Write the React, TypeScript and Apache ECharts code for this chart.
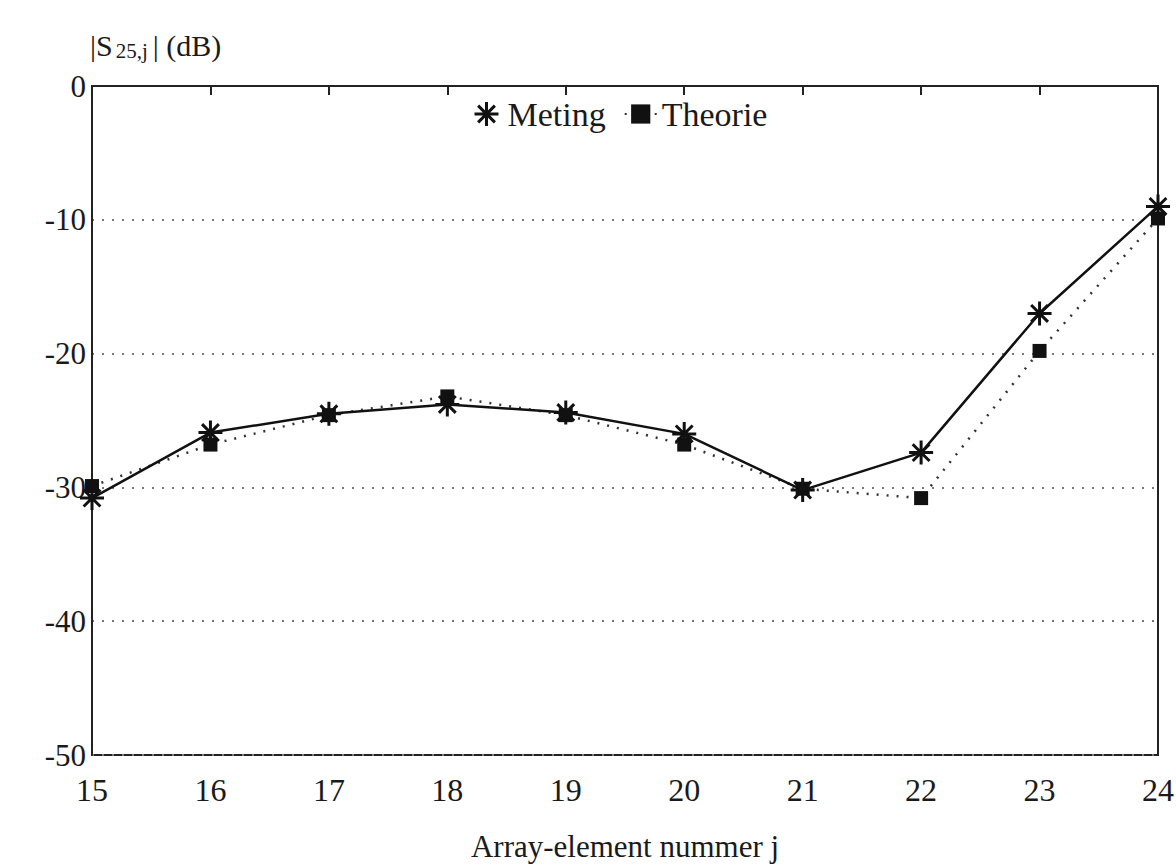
import React, { useEffect, useRef } from "react";
import * as echarts from "echarts";

const elements = [15, 16, 17, 18, 19, 20, 21, 22, 23, 24];
const meting = [-30.8, -25.9, -24.5, -23.8, -24.4, -26.0, -30.2, -27.4, -17.0, -9.0];
const theorie = [-29.9, -26.8, -24.6, -23.2, -24.6, -26.8, -30.1, -30.8, -19.8, -9.9];
const yTicks = [0, -10, -20, -30, -40, -50];

const FONT = "'Liberation Serif', 'DejaVu Serif', serif";
const ASTERISK =
  "path://M0 10 L20 10 M10 0 L10 20 M3 3 L17 17 M17 3 L3 17";

export default function App() {
  const ref = useRef<HTMLDivElement>(null);
  useEffect(() => {
    if (!ref.current) return;
    const chart = echarts.init(ref.current, undefined, { renderer: "svg" });
    chart.setOption({
      animation: false,
      backgroundColor: "#fff",
      textStyle: { fontFamily: FONT },
      grid: {
        left: 92,
        right: 18,
        top: 86,
        bottom: 112,
        outerBoundsMode: "none",
        containLabel: false,
        show: true,
        borderColor: "#222",
        borderWidth: 2,
      },
      legend: {
        top: 92,
        left: 468,
        itemGap: 18,
        itemWidth: 32,
        itemHeight: 24,
        textStyle: { fontFamily: FONT, fontSize: 34, color: "#1a1a1a" },
        data: [
          { name: "Meting", icon: ASTERISK, itemStyle: { color: "#111", borderColor: "#111", borderWidth: 3 } },
          { name: "Theorie" },
        ],
      },
      graphic: [
        {
          type: "text",
          left: 90,
          top: 30,
          style: {
            text: "{a||S}{b|25,j}{a|| (dB)}",
            rich: {
              a: { fontFamily: FONT, fontSize: 30, fill: "#1a1a1a" },
              b: { fontFamily: FONT, fontSize: 21, fill: "#1a1a1a", padding: [12, 5, 0, 3] },
            },
          },
        },
      ],
      xAxis: {
        type: "value",
        min: 15,
        max: 24,
        interval: 1,
        name: "Array-element nummer j",
        nameLocation: "middle",
        nameGap: 76,
        nameTextStyle: { fontFamily: FONT, fontSize: 31, color: "#1a1a1a" },
        axisLine: { lineStyle: { color: "#222", width: 2 } },
        axisTick: { show: true, length: 9, lineStyle: { color: "#222", width: 2 } },
        axisLabel: { fontFamily: FONT, fontSize: 32, color: "#1a1a1a", margin: 19 },
        splitLine: { show: false },
      },
      yAxis: {
        type: "value",
        min: -50,
        max: 0,
        interval: 10,
        axisLine: { show: true, lineStyle: { color: "#222", width: 2 } },
        axisTick: { show: false },
        axisLabel: {
          fontFamily: FONT,
          fontSize: 31,
          color: "#1a1a1a",
          margin: 6,
          formatter: (v: number) => (yTicks.includes(v) ? String(v) : ""),
        },
        splitLine: {
          show: true,
          lineStyle: { color: "#777", width: 2, type: [2, 8] },
        },
      },
      series: [
        {
          name: "Meting",
          type: "line",
          data: elements.map((x, i) => [x, meting[i]]),
          symbol: ASTERISK,
          symbolSize: 24,
          itemStyle: { color: "#111", borderColor: "#111", borderWidth: 3 },
          lineStyle: { color: "#111", width: 2.5 },
          z: 3,
        },
        {
          name: "Theorie",
          type: "line",
          data: elements.map((x, i) => [x, theorie[i]]),
          symbol: "rect",
          symbolSize: 14,
          itemStyle: { color: "#111" },
          lineStyle: { color: "#333", width: 2.5, type: [2, 8] },
          z: 2,
        },
      ],
    });
    return () => chart.dispose();
  }, []);
  return (
    <div
      ref={ref}
      style={{ position: "fixed", left: 0, top: 0, width: 1176, height: 867 }}
    />
  );
}
